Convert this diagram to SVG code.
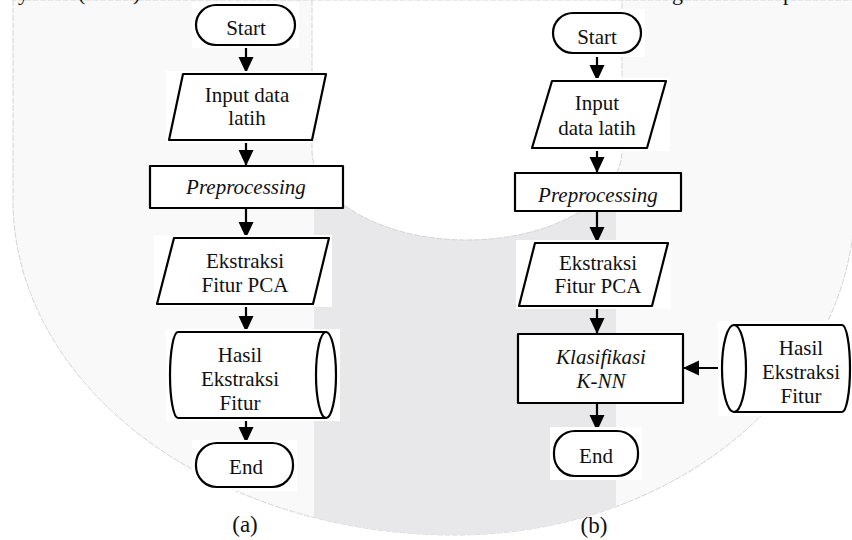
<svg xmlns="http://www.w3.org/2000/svg" width="852" height="540" viewBox="0 0 852 540">
<style>
.s{fill:#fff;stroke:#000;stroke-width:2.2;stroke-linejoin:round}
.bg{fill:#fff;stroke:none}
.t{font-family:'Liberation Serif','Times New Roman','DejaVu Serif',serif;font-size:21px;text-anchor:middle;fill:#111}
.i{font-style:italic}
.ln{stroke:#000;stroke-width:2.2;fill:none;marker-end:url(#ah)}
.wm{stroke:#d4d4d4;stroke-width:1;stroke-dasharray:6 1.5}
</style>
<defs>
<marker id="ah" viewBox="0 0 16 16" refX="16" refY="8" markerWidth="16" markerHeight="16" markerUnits="userSpaceOnUse" orient="auto">
<path d="M0,0.5 L16,8 L0,15.5 Z" fill="#000"/>
</marker>
<clipPath id="outerClip">
<path d="M13,0 L13,200 A442,335 0 0 0 455,535 A400,335 0 0 0 855,200 L855,0 Z"/>
</clipPath>
</defs>
<rect width="852" height="540" fill="#fff"/>
<g id="watermark">
<path class="wm" d="M13,0 L13,200 A442,335 0 0 0 455,535 A400,335 0 0 0 855,200 L855,0 Z" fill="#f9f9f9"/>
<rect x="314" y="100" width="302" height="440" fill="#e8e8ea" clip-path="url(#outerClip)"/>
<path class="wm" d="M312,0 L312,150 A155,90 0 0 0 622,150 L622,0 Z" fill="#fff"/>
</g>
<g id="page-text" font-family="Liberation Serif, Times New Roman, DejaVu Serif, serif" font-size="22" fill="#111">
<text x="18" y="0">y</text>
<text x="78" y="0">(</text>
<text x="133" y="0">)</text>
<text x="672" y="0">g</text>
<text x="783" y="0">p</text>
</g>
<g id="connectors">
<line class="ln" x1="246" y1="45" x2="246" y2="73"/>
<line class="ln" x1="246" y1="140" x2="246" y2="166"/>
<line class="ln" x1="246" y1="208" x2="246" y2="238"/>
<line class="ln" x1="246" y1="304" x2="246" y2="332"/>
<line class="ln" x1="246" y1="418" x2="246" y2="443"/>
<line class="ln" x1="597" y1="53" x2="597" y2="81"/>
<line class="ln" x1="597" y1="148" x2="597" y2="173"/>
<line class="ln" x1="597" y1="211" x2="597" y2="243"/>
<line class="ln" x1="597" y1="306" x2="597" y2="334"/>
<line class="ln" x1="597" y1="403" x2="597" y2="431"/>
<line class="ln" x1="722" y1="368" x2="683" y2="368"/>
</g>
<g id="a-start">
<rect class="bg" x="192" y="2" width="107" height="46"/>
<rect class="s" x="196" y="5" width="99" height="40" rx="20"/>
<text class="t" x="246" y="35">Start</text>
</g>
<g id="a-input">
<rect class="bg" x="166" y="71" width="163" height="72"/>
<polygon class="s" points="183,74 326,74 312,140 169,140"/>
<text class="t" x="247" y="102">Input data</text>
<text class="t" x="247" y="125">latih</text>
</g>
<g id="a-preprocessing">
<rect class="s" x="150" y="166" width="193" height="42"/>
<text class="t i" x="246" y="194">Preprocessing</text>
</g>
<g id="a-ekstraksi">
<rect class="bg" x="154" y="235" width="178" height="72"/>
<polygon class="s" points="174,238 329,238 313,304 157,304"/>
<text class="t" x="245" y="268">Ekstraksi</text>
<text class="t" x="245" y="292">Fitur PCA</text>
</g>
<g id="a-hasil">
<rect class="bg" x="166" y="329" width="174" height="92"/>
<path class="s" d="M178,332 L326,332 L326,418 L178,418 A8,43 0 0 1 178,332 Z"/>
<ellipse class="s" cx="326" cy="375" rx="10" ry="43"/>
<text class="t" x="240" y="362">Hasil</text>
<text class="t" x="240" y="386">Ekstraksi</text>
<text class="t" x="240" y="410">Fitur</text>
</g>
<g id="a-end">
<rect class="bg" x="192" y="440" width="105" height="51"/>
<rect class="s" x="196" y="443" width="97" height="44" rx="21"/>
<text class="t" x="246" y="474">End</text>
</g>
<text class="t" x="245" y="532" style="font-size:23px">(a)</text>
<g id="b-start">
<rect class="bg" x="549" y="9" width="96" height="48"/>
<rect class="s" x="553" y="13" width="88" height="40" rx="20"/>
<text class="t" x="597" y="44">Start</text>
</g>
<g id="b-input">
<rect class="bg" x="529" y="78" width="141" height="73"/>
<polygon class="s" points="552,81 666,81 647,148 532,148"/>
<text class="t" x="597" y="110">Input</text>
<text class="t" x="597" y="135">data latih</text>
</g>
<g id="b-preprocessing">
<rect class="s" x="515" y="173" width="166" height="38"/>
<text class="t i" x="598" y="202">Preprocessing</text>
</g>
<g id="b-ekstraksi">
<rect class="bg" x="516" y="240" width="155" height="69"/>
<polygon class="s" points="535,243 668,243 652,306 519,306"/>
<text class="t" x="598" y="270">Ekstraksi</text>
<text class="t" x="598" y="293">Fitur PCA</text>
</g>
<g id="b-klasifikasi">
<rect class="s" x="518" y="334" width="165" height="69"/>
<text class="t i" x="601" y="364">Klasifikasi</text>
<text class="t i" x="601" y="388">K-NN</text>
</g>
<g id="b-hasil">
<rect class="bg" x="718" y="321" width="134" height="95"/>
<path class="s" d="M734,325 L842,325 A8,43.5 0 0 1 842,412 L734,412 Z"/>
<ellipse class="s" cx="734" cy="368.5" rx="12" ry="43.5"/>
<text class="t" x="801" y="355">Hasil</text>
<text class="t" x="801" y="379">Ekstraksi</text>
<text class="t" x="801" y="403">Fitur</text>
</g>
<g id="b-end">
<rect class="bg" x="550" y="427" width="92" height="53"/>
<rect class="s" x="554" y="431" width="84" height="45" rx="21"/>
<text class="t" x="596" y="463">End</text>
</g>
<text class="t" x="594" y="533" style="font-size:23px">(b)</text>
</svg>
